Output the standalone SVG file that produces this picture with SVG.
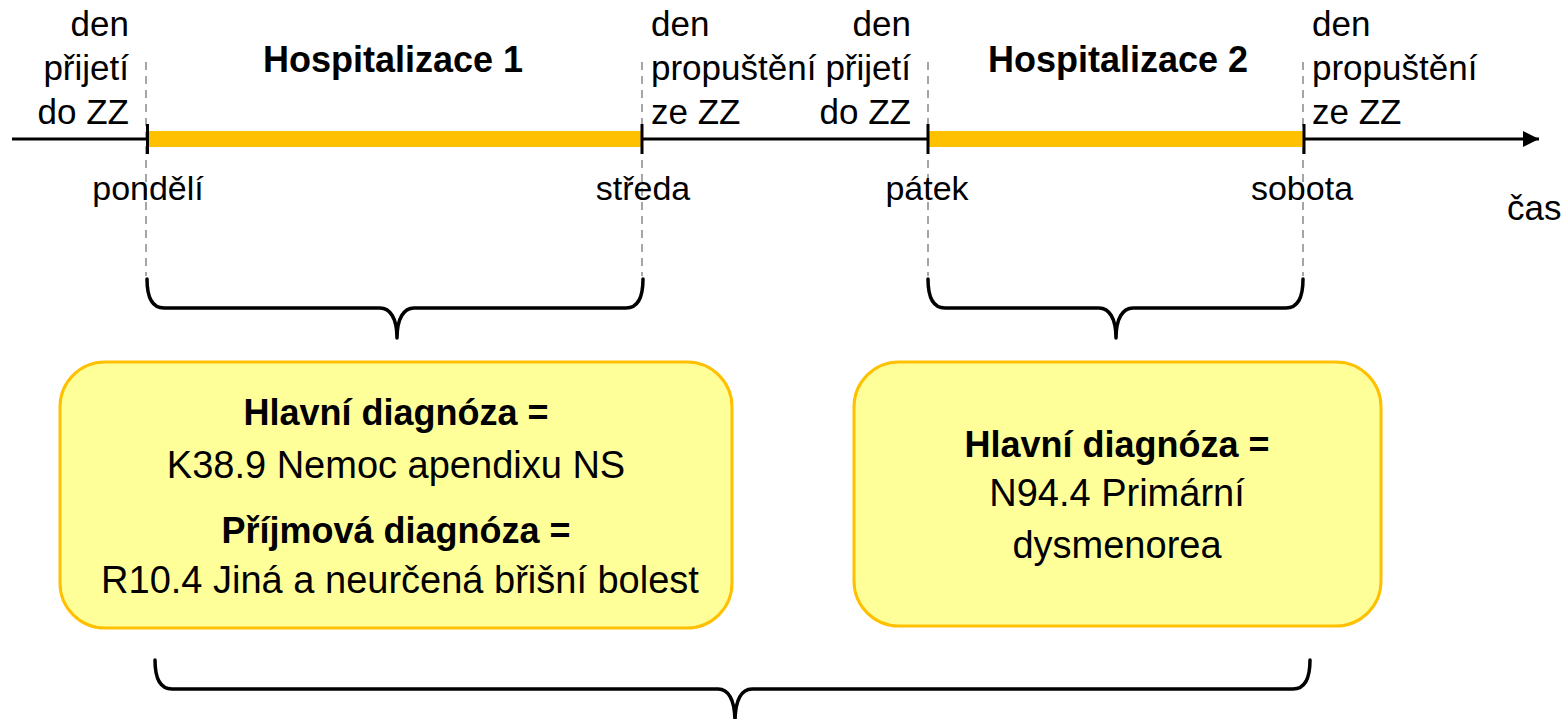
<svg xmlns="http://www.w3.org/2000/svg" width="1564" height="719" viewBox="0 0 1564 719">
<style>
text{font-family:"Liberation Sans",Arial,sans-serif;fill:#000}
.lbl{font-size:35px}
.day{font-size:34px;text-anchor:middle}
.h{font-size:36px;font-weight:bold;text-anchor:middle}
.bt{font-size:38px;text-anchor:middle}
.bb{font-size:36px;font-weight:bold;text-anchor:middle}
.dash{stroke:#A6A6A6;stroke-width:2;stroke-dasharray:8 6;fill:none}
.brace{stroke:#000;stroke-width:3.5;fill:none;stroke-linecap:round;stroke-linejoin:round}
.bar{fill:#FFC000}
.tick{stroke:#000;stroke-width:3}
.box{fill:#FFFF99;stroke:#FFC000;stroke-width:3}
</style>
<defs>
<marker id="arr" markerWidth="18" markerHeight="16" refX="16" refY="8" orient="auto" markerUnits="userSpaceOnUse">
<path d="M0,0 L16,8 L0,16 Z" fill="#000"/>
</marker>
</defs>
<g id="guides">
<line class="dash" x1="146" y1="62" x2="146" y2="276"/>
<line class="dash" x1="642" y1="62" x2="642" y2="276"/>
<line class="dash" x1="928" y1="62" x2="928" y2="276"/>
<line class="dash" x1="1303" y1="62" x2="1303" y2="276"/>
</g>
<g id="connectors">
<line x1="12" y1="139" x2="1539" y2="139" stroke="#000" stroke-width="3" marker-end="url(#arr)"/>
<rect class="bar" x="148" y="131" width="493" height="16"/>
<rect class="bar" x="929" y="131" width="374" height="16"/>
<line class="tick" x1="147.5" y1="124" x2="147.5" y2="154"/>
<line class="tick" x1="642" y1="124" x2="642" y2="154"/>
<line class="tick" x1="928" y1="124" x2="928" y2="154"/>
<line class="tick" x1="1304" y1="124" x2="1304" y2="154"/>
<path class="brace" d="M147,279 C147,298 152,308 164,308 L380,308 C390,308 397,318 397,338 C397,318 404,308 414,308 L626,308 C638,308 643,298 643,279"/>
<path class="brace" d="M928,279 C928,298 933,308 945,308 L1099,308 C1109,308 1116,318 1116,338 C1116,318 1123,308 1133,308 L1286,308 C1298,308 1303,298 1303,279"/>
<path class="brace" d="M155,660 C155,679 160,689 172,689 L718,689 C728,689 735,699 735,722 C735,699 742,689 752,689 L1293,689 C1305,689 1310,679 1310,660"/>
</g>
<g id="label-prijeti1">
<text class="lbl" text-anchor="end" x="129" y="36">den</text>
<text class="lbl" text-anchor="end" x="129" y="80">přijetí</text>
<text class="lbl" text-anchor="end" x="129" y="124">do ZZ</text>
</g>
<g id="label-propusteni1">
<text class="lbl" x="651" y="36">den</text>
<text class="lbl" x="651" y="80">propuštění</text>
<text class="lbl" x="651" y="124">ze ZZ</text>
</g>
<g id="label-prijeti2">
<text class="lbl" text-anchor="end" x="911" y="36">den</text>
<text class="lbl" text-anchor="end" x="911" y="80">přijetí</text>
<text class="lbl" text-anchor="end" x="911" y="124">do ZZ</text>
</g>
<g id="label-propusteni2">
<text class="lbl" x="1312" y="36">den</text>
<text class="lbl" x="1312" y="80">propuštění</text>
<text class="lbl" x="1312" y="124">ze ZZ</text>
</g>
<g id="title1"><text class="h" x="393" y="72">Hospitalizace 1</text></g>
<g id="title2"><text class="h" x="1118" y="72">Hospitalizace 2</text></g>
<g id="days">
<text class="day" x="148" y="200">pondělí</text>
<text class="day" x="643" y="200">středa</text>
<text class="day" x="927" y="200">pátek</text>
<text class="day" x="1302" y="200">sobota</text>
</g>
<g id="cas"><text class="lbl" x="1507" y="220">čas</text></g>
<g id="box1">
<rect class="box" x="60" y="362" width="672" height="266" rx="45" ry="45"/>
<text class="bb" x="396" y="425">Hlavní diagnóza =</text>
<text class="bt" x="396" y="478">K38.9 Nemoc apendixu NS</text>
<text class="bb" x="396" y="543">Příjmová diagnóza =</text>
<text class="bt" x="400" y="593">R10.4 Jiná a neurčená břišní bolest</text>
</g>
<g id="box2">
<rect class="box" x="854" y="362" width="527" height="264" rx="45" ry="45"/>
<text class="bb" x="1117" y="457">Hlavní diagnóza =</text>
<text class="bt" x="1117" y="506">N94.4 Primární</text>
<text class="bt" x="1117" y="558">dysmenorea</text>
</g>
</svg>
